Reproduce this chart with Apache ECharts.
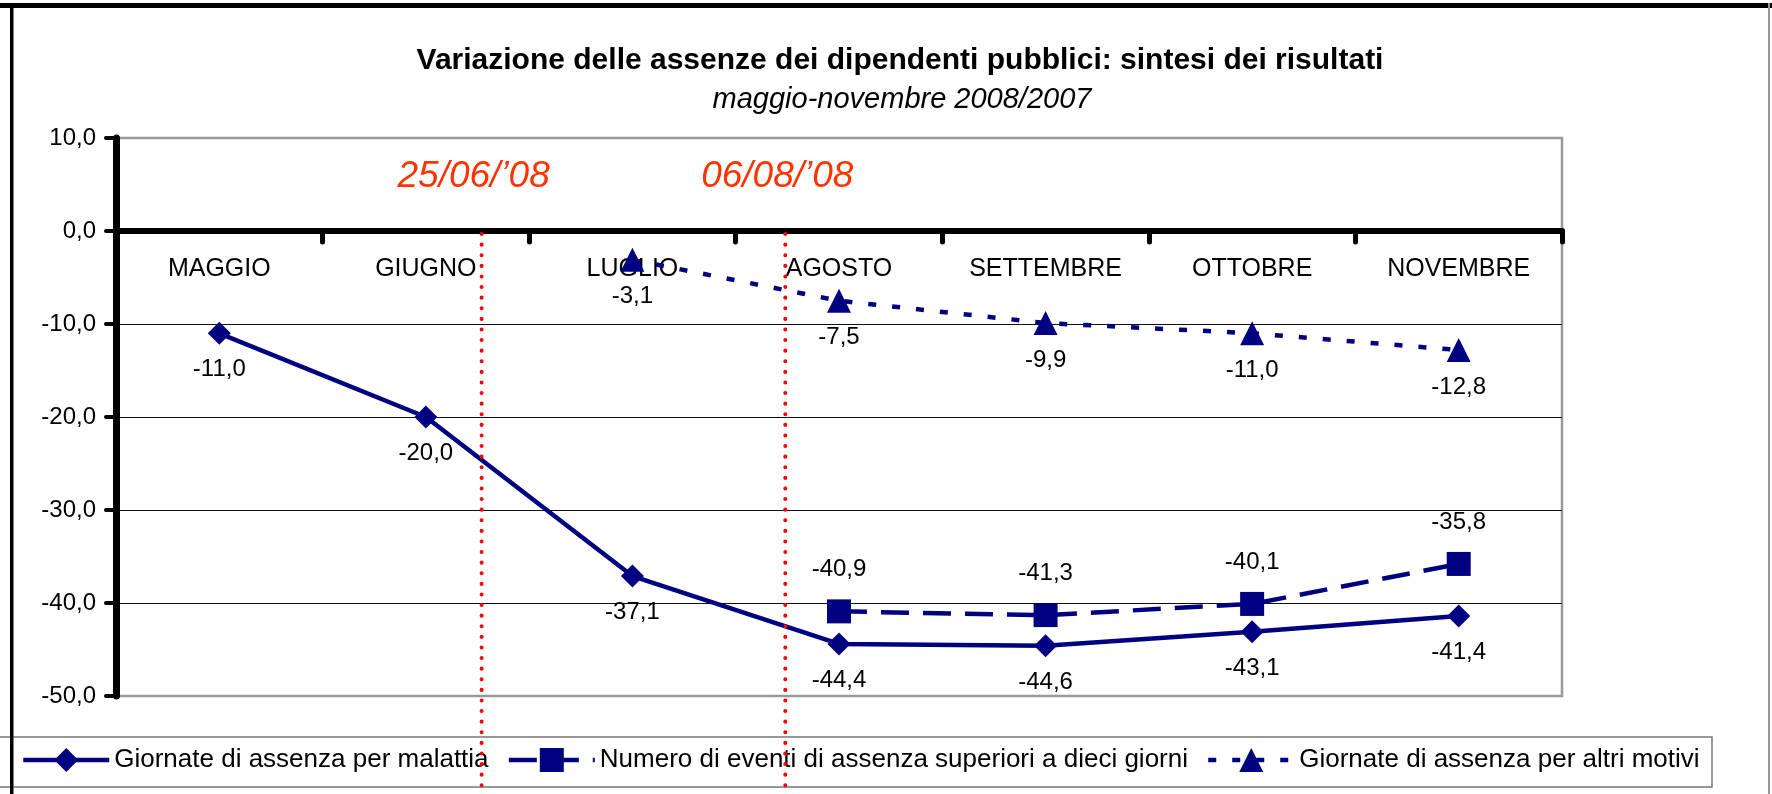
<!DOCTYPE html>
<html>
<head>
<meta charset="utf-8">
<script src="https://cdn.jsdelivr.net/npm/echarts@6/dist/echarts.min.js"></script>
<style>
html, body { margin: 0; padding: 0; background: #fff; }
#chart { width: 1772px; height: 794px; }
</style>
</head>
<body>
<div id="chart"></div>
<script>
var months = ['MAGGIO', 'GIUGNO', 'LUGLIO', 'AGOSTO', 'SETTEMBRE', 'OTTOBRE', 'NOVEMBRE'];
var malattia = [-11.0, -20.0, -37.1, -44.4, -44.6, -43.1, -41.4];
var eventiLunghi = [null, null, null, -40.9, -41.3, -40.1, -35.8];
var altriMotivi = [null, null, -3.1, -7.5, -9.9, -11.0, -12.8];
var seriesNames = [
    'Giornate di assenza per malattia',
    'Numero di eventi di assenza superiori a dieci giorni',
    'Giornate di assenza per altri motivi'
];
// date dei provvedimenti, posizione in indice di categoria (frazionario)
var eventLabels = ['25/06/\u201908', '06/08/\u201908'];
var eventPos = [1.27, 2.74];

var FONT = 'Liberation Sans, Arial, sans-serif';
var NAVY = '#000080';

function fmt(v){
    return v.toFixed(1).replace('.', ',');
}

var chart = echarts.init(document.getElementById('chart'));

var option = {
    animation: false,
    backgroundColor: '#fff',
    title: [{
        text: 'Variazione delle assenze dei dipendenti pubblici: sintesi dei risultati',
        left: 900,
        textAlign: 'center',
        top: 46,
        padding: 0,
        textStyle: { fontFamily: FONT, fontSize: 30, fontWeight: 'bold', color: '#000' }
    }, {
        text: 'maggio-novembre 2008/2007',
        left: 902,
        textAlign: 'center',
        top: 85,
        padding: 0,
        textStyle: { fontFamily: FONT, fontSize: 29, fontWeight: 'normal', fontStyle: 'italic', color: '#000' }
    }],
    grid: {
        left: 116,
        right: 210,
        top: 138,
        bottom: 98,
        show: true,
        backgroundColor: '#fff',
        borderColor: '#999',
        borderWidth: 2.5
    },
    legend: {
        left: 21,
        top: 747,
        padding: 0,
        itemWidth: 86,
        itemHeight: 30,
        itemGap: 18,
        z: 5,
        lineStyle: { width: 4.5 },
        textStyle: { fontFamily: FONT, fontSize: 26, color: '#000' },
        data: seriesNames
    },
    xAxis: {
        type: 'category',
        data: months,
        boundaryGap: true,
        axisLine: { onZero: false, lineStyle: { color: '#000', width: 6 } },
        axisTick: { show: true, length: 11, lineStyle: { color: '#000', width: 5, cap: 'round' } },
        axisLabel: { margin: 26, fontFamily: FONT, fontSize: 25, color: '#000' },
        splitLine: { show: false }
    },
    yAxis: {
        type: 'value',
        min: -50,
        max: 10,
        interval: 10,
        axisLine: { show: true, lineStyle: { color: '#000', width: 7 } },
        axisTick: { show: true, length: 10, lineStyle: { color: '#000', width: 4, cap: 'round' } },
        axisLabel: { margin: 20, fontFamily: FONT, fontSize: 24, color: '#000', formatter: fmt },
        splitLine: {
            show: true,
            lineStyle: { color: ['#999', '#111', '#111', '#111', '#111', '#111', '#999'], width: 1.2 }
        }
    },
    series: [{
        name: seriesNames[0],
        type: 'line',
        data: malattia,
        symbol: 'diamond',
        symbolSize: 23,
        itemStyle: { color: NAVY },
        lineStyle: { color: NAVY, width: 4.5 },
        label: {
            show: true, position: 'bottom', distance: 13,
            fontFamily: FONT, fontSize: 24, color: '#000',
            formatter: function(p){ return fmt(p.value); }
        }
    }, {
        name: seriesNames[1],
        type: 'line',
        data: eventiLunghi,
        symbol: 'rect',
        symbolSize: 24,
        itemStyle: { color: NAVY },
        lineStyle: { color: NAVY, width: 4.5, type: [28, 14] },
        label: {
            show: true, position: 'top', distance: 18,
            fontFamily: FONT, fontSize: 24, color: '#000',
            formatter: function(p){ return fmt(p.value); }
        }
    }, {
        name: seriesNames[2],
        type: 'line',
        data: altriMotivi,
        symbol: 'triangle',
        symbolSize: 24,
        itemStyle: { color: NAVY },
        lineStyle: { color: NAVY, width: 4.5, type: [8, 16] },
        label: {
            show: true, position: 'bottom', distance: 13,
            fontFamily: FONT, fontSize: 24, color: '#000',
            formatter: function(p){ return fmt(p.value); }
        }
    }],
    graphic: [
        // cornice esterna
        { type: 'rect', id: 'frameTop', shape: { x: 0, y: 3, width: 1772, height: 5 }, style: { fill: '#000' }, z: 20 },
        { type: 'rect', id: 'frameLeft', shape: { x: 10, y: 3, width: 3.5, height: 791 }, style: { fill: '#000' }, z: 20 },
        { type: 'rect', id: 'frameRight', shape: { x: 1768, y: 3, width: 2, height: 791 }, style: { fill: '#999' }, z: 20 },
        // riquadro legenda
        { type: 'rect', id: 'legendBox', shape: { x: -2, y: 737, width: 1714, height: 50 },
          style: { fill: '#fff', stroke: '#777', lineWidth: 1.5 }, z: 1 }
    ]
};

chart.setOption(option);

// asse delle categorie spostato sullo zero
var y0 = chart.convertToPixel({ yAxisIndex: 0 }, 0);
var yMin = chart.convertToPixel({ yAxisIndex: 0 }, -50);
chart.setOption({ xAxis: { offset: y0 - yMin } });

// linee verticali e date, posizionate con le scale dell'asse
var yText = chart.convertToPixel({ yAxisIndex: 0 }, 5.8);
var extra = [];
for (var i = 0; i < eventPos.length; i++) {
    var k = Math.floor(eventPos[i]);
    var f = eventPos[i] - k;
    var p0 = chart.convertToPixel({ xAxisIndex: 0 }, months[k]);
    var p1 = chart.convertToPixel({ xAxisIndex: 0 }, months[k + 1]);
    var x = p0 + f * (p1 - p0);
    extra.push({
        type: 'line', id: 'evLine' + i, z: 30,
        shape: { x1: x, y1: y0 + 3, x2: x, y2: 794 },
        style: { stroke: '#ff0000', lineWidth: 4, lineDash: [0.1, 10.5], lineCap: 'round' }
    });
    extra.push({
        type: 'text', id: 'evText' + i, z: 30,
        x: x - 8, y: yText,
        style: {
            text: eventLabels[i], fill: '#ff3300',
            font: 'italic 37px ' + FONT,
            textAlign: 'center', textVerticalAlign: 'middle'
        }
    });
}
chart.setOption({ graphic: extra });
</script>
</body>
</html>
